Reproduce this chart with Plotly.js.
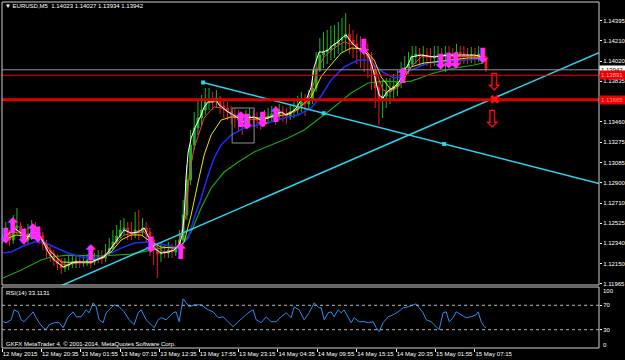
<!DOCTYPE html>
<html><head><meta charset="utf-8">
<script src="https://cdn.plot.ly/plotly-3.0.1.min.js"></script>
<style>html,body{margin:0;padding:0;background:#000;}#chart{width:625px;height:360px;}</style>
</head><body><div id="chart"></div>
<script>
// ---- time base (EURUSD, bars aggregated to 30 minutes) ----
const START = Date.UTC(2015, 4, 12, 15, 15);
const BAR_HOURS = 0.5;
const toT = h => START + h * 3600000;

// ---- candles ----
const candleOpen = [1.12389,1.12408,1.12445,1.12371,1.12482,1.12500,1.12426,1.12371,1.12426,1.12463,
1.12445,1.12408,1.12334,1.12278,1.12223,1.12186,1.12149,1.12112,1.12131,1.12149,
1.12168,1.12177,1.12159,1.12168,1.12186,1.12168,1.12195,1.12214,1.12205,1.12241,
1.12296,1.12352,1.12408,1.12463,1.12482,1.12445,1.12426,1.12463,1.12445,1.12482,
1.12445,1.12371,1.12278,1.12241,1.12260,1.12250,1.12278,1.12260,1.12296,1.12371,
1.12602,1.12925,1.13248,1.13405,1.13497,1.13571,1.13645,1.13663,1.13645,1.13681,
1.13608,1.13589,1.13552,1.13525,1.13497,1.13478,1.13442,1.13497,1.13515,1.13497,
1.13478,1.13460,1.13497,1.13515,1.13534,1.13525,1.13552,1.13534,1.13515,1.13552,
1.13571,1.13608,1.13645,1.13626,1.13663,1.13774,1.13940,1.14078,1.14106,1.14125,
1.14161,1.14180,1.14217,1.14235,1.14272,1.14217,1.14180,1.14143,1.14125,1.14088,
1.14051,1.13940,1.13774,1.13663,1.13700,1.13737,1.13755,1.13792,1.13829,1.13903,
1.13958,1.13995,1.14069,1.14088,1.14069,1.14078,1.14060,1.14051,1.14069,1.14078,
1.14069,1.14088,1.14078,1.14069,1.14106,1.14088,1.14078,1.14069,1.14078,1.14069,
1.14088,1.14060];
const candleHigh = [1.12482,1.12537,1.12463,1.12602,1.12666,1.12537,1.12482,1.12518,1.12555,1.12537,
1.12500,1.12445,1.12371,1.12315,1.12278,1.12241,1.12205,1.12205,1.12223,1.12241,
1.12223,1.12223,1.12232,1.12241,1.12232,1.12250,1.12278,1.12278,1.12334,1.12389,
1.12463,1.12509,1.12555,1.12574,1.12537,1.12537,1.12629,1.12648,1.12574,1.12537,
1.12482,1.12408,1.12334,1.12352,1.12334,1.12352,1.12334,1.12371,1.12463,1.12740,
1.13063,1.13386,1.13552,1.13663,1.13709,1.13774,1.13774,1.13737,1.13755,1.13700,
1.13663,1.13645,1.13608,1.13589,1.13571,1.13534,1.13571,1.13589,1.13571,1.13552,
1.13552,1.13571,1.13589,1.13608,1.13608,1.13626,1.13608,1.13589,1.13626,1.13663,
1.13700,1.13737,1.13718,1.13755,1.13940,1.14106,1.14235,1.14291,1.14309,1.14346,
1.14355,1.14383,1.14420,1.14466,1.14364,1.14309,1.14272,1.14254,1.14217,1.14180,
1.14106,1.13977,1.13848,1.13848,1.13866,1.13866,1.13903,1.13940,1.14014,1.14069,
1.14106,1.14161,1.14161,1.14143,1.14161,1.14143,1.14143,1.14161,1.14161,1.14143,
1.14161,1.14161,1.14143,1.14180,1.14161,1.14161,1.14143,1.14152,1.14143,1.14161,
1.14143,1.14069];
const candleLow = [1.12334,1.12371,1.12315,1.12334,1.12426,1.12371,1.12315,1.12334,1.12371,1.12389,
1.12334,1.12278,1.12205,1.12168,1.12131,1.12094,1.12057,1.12076,1.12094,1.12112,
1.12112,1.12112,1.12122,1.12131,1.12112,1.12140,1.12159,1.12149,1.12168,1.12223,
1.12278,1.12334,1.12389,1.12408,1.12371,1.12371,1.12389,1.12371,1.12408,1.12352,
1.12223,1.12140,1.12020,1.12168,1.12205,1.12205,1.12205,1.12223,1.12205,1.12325,
1.12555,1.12878,1.13202,1.13340,1.13432,1.13525,1.13571,1.13571,1.13589,1.13534,
1.13497,1.13478,1.13442,1.13405,1.13368,1.13340,1.13405,1.13442,1.13423,1.13405,
1.13386,1.13423,1.13442,1.13460,1.13432,1.13478,1.13460,1.13442,1.13478,1.13497,
1.13534,1.13552,1.13515,1.13571,1.13626,1.13737,1.13921,1.13958,1.13995,1.14032,
1.14051,1.14088,1.14106,1.14125,1.14088,1.14051,1.13995,1.13958,1.13921,1.13866,
1.13755,1.13589,1.13432,1.13497,1.13589,1.13626,1.13663,1.13700,1.13774,1.13848,
1.13903,1.13977,1.13995,1.13977,1.13977,1.13977,1.13958,1.13977,1.13995,1.13977,
1.13921,1.13995,1.13977,1.14014,1.13995,1.13995,1.13995,1.14005,1.13995,1.14014,
1.13995,1.13921];
const candleClose = [1.12408,1.12445,1.12371,1.12482,1.12500,1.12426,1.12371,1.12426,1.12463,1.12445,
1.12408,1.12334,1.12278,1.12223,1.12186,1.12149,1.12112,1.12131,1.12149,1.12168,
1.12177,1.12159,1.12168,1.12186,1.12168,1.12195,1.12214,1.12205,1.12241,1.12296,
1.12352,1.12408,1.12463,1.12482,1.12445,1.12426,1.12463,1.12445,1.12482,1.12445,
1.12371,1.12278,1.12241,1.12260,1.12250,1.12278,1.12260,1.12296,1.12371,1.12602,
1.12925,1.13248,1.13405,1.13497,1.13571,1.13645,1.13663,1.13645,1.13681,1.13608,
1.13589,1.13552,1.13525,1.13497,1.13478,1.13442,1.13497,1.13515,1.13497,1.13478,
1.13460,1.13497,1.13515,1.13534,1.13525,1.13552,1.13534,1.13515,1.13552,1.13571,
1.13608,1.13645,1.13626,1.13663,1.13774,1.13940,1.14078,1.14106,1.14125,1.14161,
1.14180,1.14217,1.14235,1.14272,1.14217,1.14180,1.14143,1.14125,1.14088,1.14051,
1.13940,1.13774,1.13663,1.13700,1.13737,1.13755,1.13792,1.13829,1.13903,1.13958,
1.13995,1.14069,1.14088,1.14069,1.14078,1.14060,1.14051,1.14069,1.14078,1.14069,
1.14088,1.14078,1.14069,1.14106,1.14088,1.14078,1.14069,1.14078,1.14069,1.14088,
1.14060,1.13942];

// ---- moving averages (hours after first bar, price) ----
const whiteH = [0.14,1.62,2.57,3.25,3.93,4.87,5.55,6.23,7.04,8.26,8.93,9.75,10.69,12.05,13.0,13.8,14.75,15.7,16.51,17.46,18.41,19.22,19.9,20.58,21.52,22.47,23.28,23.96,24.37,24.64,24.91,25.18,25.58,26.26,26.94,27.34,27.89,28.56,28.97,29.37,29.92,30.59,31.27,31.95,32.62,33.3,34.11,35.06,36.01,36.82,37.77,38.44,39.12,39.8,40.47,41.15,41.83,42.23,42.91,43.45,44.13,44.81,45.48,46.16,46.57,47.24,47.92,48.6,49.27,49.68,50.22,50.63,51.03,51.57,51.98,52.39,53.06,53.74,54.42,54.96,55.36,56.72,58.48,60.37,62.13,63.89,65.11,65.52];
const whiteP = [1.12371,1.12482,1.12435,1.12371,1.12445,1.12435,1.12352,1.12260,1.12186,1.12122,1.12140,1.12168,1.12168,1.12168,1.12195,1.12214,1.12296,1.12389,1.12463,1.12435,1.12445,1.12482,1.12389,1.12296,1.12250,1.12260,1.12278,1.12325,1.12417,1.12602,1.12971,1.13183,1.13312,1.13432,1.13525,1.13598,1.13645,1.13645,1.13663,1.13617,1.13589,1.13552,1.13525,1.13497,1.13460,1.13497,1.13506,1.13478,1.13497,1.13525,1.13552,1.13525,1.13543,1.13589,1.13663,1.13663,1.13783,1.13968,1.14106,1.14106,1.14125,1.14171,1.14199,1.14245,1.14263,1.14199,1.14152,1.14125,1.14097,1.14060,1.13940,1.13820,1.13709,1.13681,1.13728,1.13755,1.13783,1.13829,1.13940,1.13986,1.14060,1.14078,1.14060,1.14078,1.14078,1.14078,1.14060,1.14032];
const redH = [0.14,1.62,3.52,5.28,6.23,7.58,8.39,10.29,12.05,13.8,15.16,16.51,17.87,19.22,20.58,21.93,23.28,23.82,24.91,25.31,25.99,26.67,27.34,28.02,28.7,29.64,30.59,31.95,33.03,35.06,36.82,38.44,40.07,41.15,41.83,42.77,43.59,44.94,46.29,47.65,49.0,50.22,50.9,51.57,52.39,53.6,54.42,55.36,56.72,59.42,65.11];
const redP = [1.12352,1.12445,1.12417,1.12389,1.12296,1.12205,1.12140,1.12159,1.12168,1.12205,1.12325,1.12417,1.12435,1.12445,1.12325,1.12260,1.12278,1.12325,1.12602,1.12971,1.13220,1.13368,1.13497,1.13552,1.13598,1.13589,1.13552,1.13506,1.13478,1.13488,1.13506,1.13525,1.13571,1.13645,1.13728,1.13968,1.14060,1.14143,1.14199,1.14171,1.14106,1.14005,1.13875,1.13755,1.13737,1.13783,1.13875,1.13968,1.14060,1.14069,1.14060];
const yellowH = [0.14,1.9,5.28,6.63,7.99,12.05,14.75,16.11,17.46,18.82,20.17,21.52,23.28,24.23,24.64,25.58,26.53,27.34,28.29,29.64,30.99,32.76,34.65,36.41,38.17,40.07,41.83,43.18,44.13,45.89,47.24,49.0,50.36,51.3,52.66,54.01,55.36,57.12,58.48,60.78,63.08,64.84];
const yellowP = [1.12371,1.12417,1.12389,1.12260,1.12168,1.12159,1.12260,1.12371,1.12417,1.12417,1.12352,1.12306,1.12296,1.12325,1.12352,1.12602,1.12906,1.13155,1.13340,1.13478,1.13506,1.13506,1.13497,1.13506,1.13525,1.13580,1.13691,1.13879,1.13958,1.14097,1.14143,1.14134,1.14032,1.13875,1.13755,1.13820,1.13968,1.14005,1.14014,1.14032,1.14051,1.14051];
const blueH = [0.14,1.22,2.57,4.33,5.69,7.04,8.93,10.69,12.05,13.4,14.75,16.11,17.87,19.76,21.52,23.28,24.23,25.18,25.99,26.94,27.88,28.7,29.64,30.99,32.76,34.65,36.41,38.17,40.07,41.83,43.18,44.53,46.29,48.19,49.54,50.63,51.71,53.06,54.01,55.36,57.66,59.42,62.13,64.43];
const blueP = [1.12251,1.12260,1.12306,1.12352,1.12352,1.12306,1.12251,1.12214,1.12205,1.12205,1.12251,1.12296,1.12343,1.12352,1.12334,1.12306,1.12325,1.12389,1.12574,1.12758,1.12971,1.13128,1.13248,1.13340,1.13405,1.13432,1.13460,1.13497,1.13525,1.13589,1.13700,1.13848,1.13968,1.14032,1.14032,1.13968,1.13912,1.13866,1.13875,1.13940,1.14005,1.14014,1.14032,1.14041];
const greenH = [0.14,2.57,5.28,6.63,8.93,13.4,17.46,21.52,24.23,25.58,26.94,28.29,30.05,31.95,34.11,36.41,38.71,40.88,42.23,43.18,44.94,47.24,49.54,51.71,54.01,55.36,58.48,61.18,63.89,65.11];
const greenP = [1.12020,1.12094,1.12186,1.12214,1.12232,1.12223,1.12241,1.12296,1.12315,1.12445,1.12666,1.12851,1.12998,1.13091,1.13183,1.13248,1.13312,1.13386,1.13460,1.13506,1.13598,1.13728,1.13820,1.13838,1.13829,1.13838,1.13912,1.13958,1.13986,1.14005];

// ---- RSI(14) ----
const rsiH = [0.14,0.54,1.22,1.62,2.17,2.57,2.98,3.65,4.2,4.6,5.01,5.55,5.96,6.36,7.04,7.72,8.26,8.93,9.61,10.02,10.69,11.37,11.78,12.32,12.72,13.13,13.67,14.08,14.48,15.16,15.84,16.51,17.19,17.87,18.41,18.82,19.49,20.17,20.58,21.12,21.52,22.2,22.6,23.15,23.55,23.96,24.23,24.5,24.91,25.31,25.99,26.94,27.88,28.56,29.24,29.91,30.59,31.27,31.95,32.62,33.3,33.98,34.38,35.06,35.74,36.41,37.09,37.77,38.44,39.12,39.53,40.2,40.88,41.56,42.23,42.91,43.18,43.59,44.13,44.53,44.94,45.48,45.89,46.29,46.83,47.24,47.65,48.32,49.0,49.54,50.22,50.63,51.03,51.57,52.25,52.93,53.6,54.28,54.96,55.63,56.04,56.45,56.99,57.39,58.07,58.75,59.15,59.69,60.1,60.51,61.05,61.45,62.13,62.81,63.48,64.16,64.43,64.84,65.25,65.52];
const rsiV = [43.1,41.5,46.3,62.6,59.3,46.3,43.1,51.2,59.3,49.6,41.5,33.3,30.1,38.2,41.5,41.5,33.3,51.2,59.3,51.2,51.2,62.6,57.7,74,67.5,46.3,41.5,57.7,62.6,70.7,67.5,59.3,46.3,38.2,57.7,62.6,46.3,38.2,33.3,46.3,49.6,46.3,51.2,57.7,59.3,43.1,62.6,80.5,74,67.5,70.7,70.7,62.6,59.3,49.6,51.2,43.1,35,43.1,49.6,57.7,62.6,46.3,41.5,51.2,43.1,43.1,51.2,57.7,49.6,67.5,62.6,46.3,57.7,74,65.9,65.9,46.3,57.7,59.3,51.2,62.6,57.7,62.6,51.2,41.5,49.6,43.1,43.1,41.5,43.1,33.3,26.8,41.5,51.2,54.5,59.3,65.9,67.5,70.7,72.4,65.9,57.7,46.3,43.1,35,30.1,57.7,59.3,43.1,49.6,59.3,54.5,49.6,51.2,54.5,59.3,43.1,35,33.1];
const rsiLevels = [30, 70];

// ---- signal arrows ----
const arrowH = [0.54,1.49,2.98,4.2,4.87,12.05,20.17,24.23,32.35,33.16,35.33,37.09,49.0,54.28,59.42,60.51,61.45,65.11];
const arrowP = [1.12408,1.12500,1.12398,1.12445,1.12417,1.12250,1.12325,1.12260,1.13478,1.13460,1.13478,1.13525,1.14152,1.13885,1.14014,1.14023,1.14023,1.14069];
const arrowDir = ['down','up','down','up','down','up','down','up','up','down','down','up','down','up','down','down','down','down'];
const redArrowH = [66.6, 66.33];
const redArrowP = [1.13829, 1.13488];
const crossH = [66.6];
const crossP = [1.13672];

// ---- objects ----
const trend1H = [27.2, 59.83], trend1P = [1.13825, 1.13257];
const trend2H = [22.88, 59.42], trend2P = [1.12389, 1.13469];
const bidPrice = 1.13942, level1 = 1.13891, level2 = 1.13665;
const boxH = [31.13, 34.11], boxP = [1.13266, 1.13589];

// ---- axes ----
const priceTicks = [1.14395,1.14210,1.14020,1.13835,1.13650,1.13460,1.13275,1.13085,1.12900,1.12710,1.12525,1.12340,1.12150,1.11965];
const timeTicks = ['2015-05-12 15:15','2015-05-12 20:35','2015-05-13 01:55','2015-05-13 07:15','2015-05-13 12:35','2015-05-13 17:55','2015-05-13 23:15','2015-05-14 04:35','2015-05-14 09:55','2015-05-14 15:15','2015-05-14 20:35','2015-05-15 01:55','2015-05-15 07:15'];
const timeLabels = ['12 May 2015','12 May 20:35','13 May 01:55','13 May 07:15','13 May 12:35','13 May 17:55','13 May 23:15','14 May 04:35','14 May 09:55','14 May 15:15','14 May 20:35','15 May 01:55','15 May 07:15'];
const X_START = -0.02, X_END = 80.79;

const FONT = 'Liberation Sans, Arial, sans-serif';
const FS = 6;
const candleTime = candleOpen.map((_, i) => toT(i * BAR_HOURS));
const lineAt = (H, P, h) => P[0] + (P[1] - P[0]) * (h - H[0]) / (H[1] - H[0]);

const traces = [
  {type:'candlestick', x:candleTime, open:candleOpen, high:candleHigh, low:candleLow, close:candleClose,
   increasing:{line:{color:'#1cb81c', width:1}, fillcolor:'#1cb81c'},
   decreasing:{line:{color:'#e21e1e', width:1}, fillcolor:'#e21e1e'},
   whiskerwidth:0, hoverinfo:'skip', xaxis:'x', yaxis:'y'},
  {type:'scatter', mode:'lines', x:greenH.map(toT), y:greenP, line:{color:'#14a814', width:1.2}, hoverinfo:'skip'},
  {type:'scatter', mode:'lines', x:blueH.map(toT), y:blueP, line:{color:'#1f2cff', width:1.5}, hoverinfo:'skip'},
  {type:'scatter', mode:'lines', x:yellowH.map(toT), y:yellowP, line:{color:'#e8e800', width:1}, hoverinfo:'skip'},
  {type:'scatter', mode:'lines', x:redH.map(toT), y:redP, line:{color:'#ff3a3a', width:1}, hoverinfo:'skip'},
  {type:'scatter', mode:'lines', x:whiteH.map(toT), y:whiteP, line:{color:'#ffffff', width:1}, hoverinfo:'skip'},
  {type:'scatter', mode:'lines', x:[toT(trend1H[0]), toT(X_END)], y:[trend1P[0], lineAt(trend1H, trend1P, X_END)],
   line:{color:'#2ad4f0', width:1.5}, hoverinfo:'skip'},
  {type:'scatter', mode:'markers', x:[toT(trend1H[0]), toT((trend1H[0]+trend1H[1])/2), toT(trend1H[1])],
   y:[trend1P[0], (trend1P[0]+trend1P[1])/2, trend1P[1]], marker:{symbol:'square', size:4, color:'#2ad4f0'}, hoverinfo:'skip'},
  {type:'scatter', mode:'lines', x:[toT(0), toT(X_END)], y:[lineAt(trend2H, trend2P, 0), lineAt(trend2H, trend2P, X_END)],
   line:{color:'#2ad4f0', width:1.5}, hoverinfo:'skip'},
  {type:'scatter', mode:'lines', x:rsiH.map(toT), y:rsiV, xaxis:'x', yaxis:'y2', line:{color:'#2a8ff0', width:1}, hoverinfo:'skip'}
];

const shapes = [
  {type:'line', xref:'paper', x0:0, x1:1, yref:'y', y0:bidPrice, y1:bidPrice, line:{color:'#8e8e9a', width:1}},
  {type:'line', xref:'paper', x0:0, x1:1, yref:'y', y0:level1, y1:level1, line:{color:'#ee0000', width:1}},
  {type:'line', xref:'paper', x0:0, x1:1, yref:'y', y0:level2, y1:level2, line:{color:'#dd0000', width:3}},
  {type:'rect', xref:'x', yref:'y', x0:toT(boxH[0]), x1:toT(boxH[1]), y0:boxP[0], y1:boxP[1], line:{color:'#8c9098', width:1}},
  {type:'line', xref:'paper', x0:0, x1:1, yref:'y2', y0:rsiLevels[0], y1:rsiLevels[0], line:{color:'#b4b4b4', width:1, dash:'dot'}},
  {type:'line', xref:'paper', x0:0, x1:1, yref:'y2', y0:rsiLevels[1], y1:rsiLevels[1], line:{color:'#b4b4b4', width:1, dash:'dot'}},
  {type:'rect', xref:'paper', yref:'paper', x0:0, x1:1, y0:0.1821, y1:1, line:{color:'#cfcfcf', width:1}},
  {type:'rect', xref:'paper', yref:'paper', x0:0, x1:1, y0:0, y1:0.1763, line:{color:'#cfcfcf', width:1}}
];

const txt = (c) => ({family:FONT, size:FS, color:c || '#ffffff'});
const annotations = [
  {xref:'paper', yref:'paper', x:0.002, y:0.9884, xanchor:'left', yanchor:'middle', showarrow:false,
   text:'\u25BC EURUSD,M5\u00a0\u00a01.14023 1.14027 1.13934 1.13942', font:txt()},
  {xref:'paper', yref:'paper', x:0.004, y:0.159, xanchor:'left', yanchor:'middle', showarrow:false,
   text:'RSI(14) 33.1131', font:txt()},
  {xref:'paper', yref:'paper', x:0.004, y:0.0116, xanchor:'left', yanchor:'middle', showarrow:false,
   text:'GKFX MetaTrader 4, \u00a9 2001-2014, MetaQuotes Software Corp.', font:txt()},
  {xref:'paper', yref:'paper', x:1, xshift:2, y:0.1647, xanchor:'left', yanchor:'middle', showarrow:false, text:'100', font:txt()},
  {xref:'paper', yref:'paper', x:1, xshift:2, y:0.0087, xanchor:'left', yanchor:'middle', showarrow:false, text:'0', font:txt()},
  {xref:'paper', yref:'y', x:1, y:bidPrice, xanchor:'left', yanchor:'middle', showarrow:false, text:bidPrice.toFixed(5),
   bgcolor:'#ffffff', font:txt('#000000'), borderpad:1, width:24, align:'left'},
  {xref:'paper', yref:'y', x:1, y:level1, xanchor:'left', yanchor:'middle', showarrow:false, text:level1.toFixed(5),
   bgcolor:'#ee0000', font:txt('#ffb0b0'), borderpad:1, width:24, align:'left'},
  {xref:'paper', yref:'y', x:1, y:level2, xanchor:'left', yanchor:'middle', showarrow:false, text:level2.toFixed(5),
   bgcolor:'#ee0000', font:txt('#ff8c8c'), borderpad:1, width:24, align:'left'}
];
arrowH.forEach((h, i) => annotations.push({xref:'x', yref:'y', x:toT(h), y:arrowP[i], showarrow:false,
  text: arrowDir[i] === 'up' ? '\u2B06' : '\u2B07', xanchor:'center', yanchor:'middle',
  font:{family:'DejaVu Sans', size:21, color:'#ff2cff'}}));
redArrowH.forEach((h, i) => annotations.push({xref:'x', yref:'y', x:toT(h), y:redArrowP[i], showarrow:false,
  text:'\u21E9', xanchor:'center', yanchor:'middle', font:{family:'DejaVu Sans', size:24, color:'#ff1010'}}));
crossH.forEach((h, i) => annotations.push({xref:'x', yref:'y', x:toT(h), y:crossP[i], showarrow:false,
  text:'\u2716', xanchor:'center', yanchor:'middle', font:{family:'DejaVu Sans', size:13, color:'#ff1010'}}));

const layout = {
  width:625, height:360, paper_bgcolor:'#000000', plot_bgcolor:'#000000',
  margin:{l:2, r:26, t:2, b:12}, showlegend:false, dragmode:false,
  xaxis:{type:'date', range:[toT(X_START), toT(X_END)], anchor:'y2', tickvals:timeTicks, ticktext:timeLabels,
    tickangle:0, ticks:'outside', ticklen:3, tickcolor:'#ffffff', tickfont:txt(), ticklabelposition:'outside right',
    showgrid:false, zeroline:false, showline:false, rangeslider:{visible:false}, fixedrange:true},
  yaxis:{domain:[0.1821, 1], range:[1.119555, 1.145675], side:'right', anchor:'x',
    tickvals:priceTicks, ticktext:priceTicks.map(v => v.toFixed(5)), ticks:'outside', ticklen:2, tickcolor:'#ffffff',
    tickfont:txt(), showgrid:false, zeroline:false, showline:false, fixedrange:true},
  yaxis2:{domain:[0, 0.1763], range:[0, 100], side:'right', anchor:'x',
    tickvals:rsiLevels, ticktext:rsiLevels.map(String), ticks:'outside', ticklen:2, tickcolor:'#ffffff',
    tickfont:txt(), showgrid:false, zeroline:false, showline:false, fixedrange:true},
  shapes:shapes, annotations:annotations
};

Plotly.newPlot('chart', traces, layout, {displayModeBar:false, staticPlot:true});
</script>
</body></html>
